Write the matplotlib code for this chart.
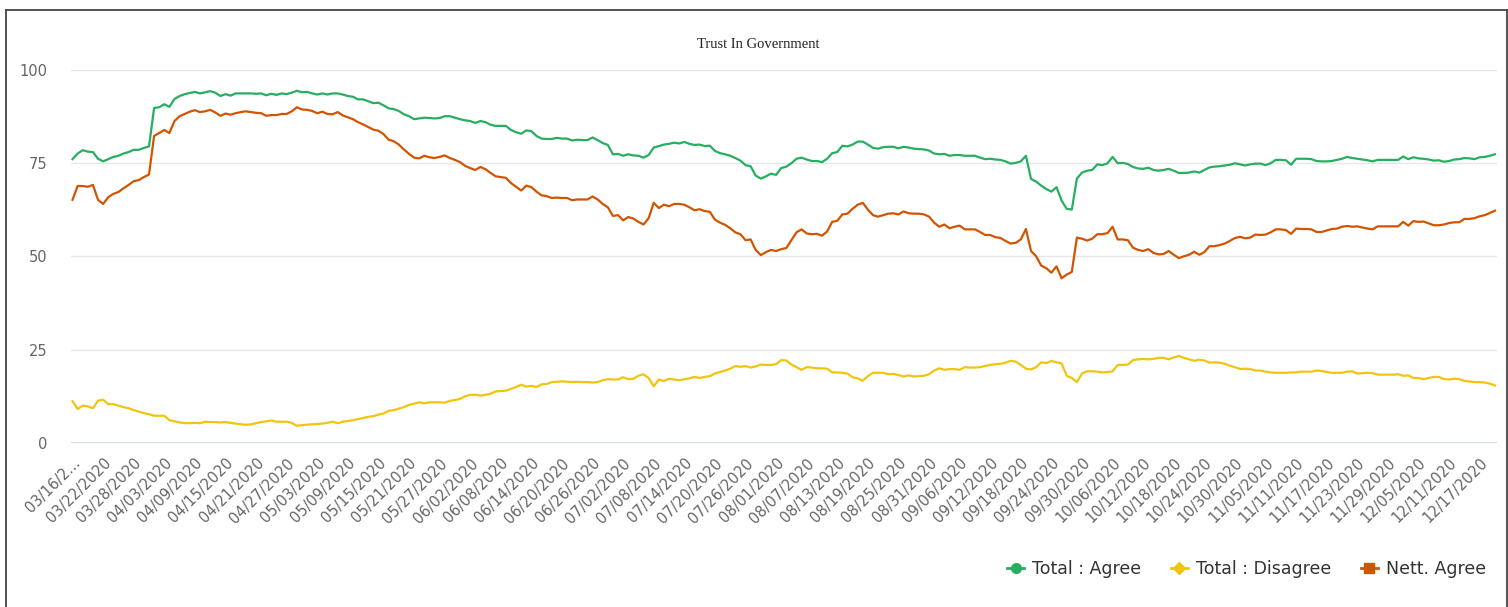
import matplotlib
matplotlib.use("Agg")
import matplotlib.pyplot as plt
from matplotlib.lines import Line2D
import pandas as pd

# Daily series, 03/16/2020 onwards
agree = [
    76.0, 77.5, 78.4, 78.0, 77.9, 76.1, 75.4, 76.0, 76.6, 76.9, 77.5, 77.9, 78.5, 78.5, 79.0, 79.4,
    89.7, 89.9, 90.7, 90.0, 92.1, 92.9, 93.4, 93.7, 94.0, 93.6, 93.9, 94.2, 93.8, 92.9, 93.4, 93.0,
    93.6, 93.6, 93.6, 93.6,
    93.5, 93.6, 93.1, 93.5, 93.2, 93.6, 93.4, 93.8, 94.3, 93.9, 94.0, 93.6, 93.3, 93.6, 93.3, 93.6,
    93.6, 93.3, 92.9, 92.7, 92.0, 92.0, 91.5, 91.0, 91.1, 90.4, 89.6, 89.4, 88.9, 88.0, 87.5, 86.7,
    86.9, 87.1, 87.0, 86.9,
    87.0, 87.5, 87.5, 87.1, 86.7, 86.4, 86.2, 85.7, 86.2, 85.9, 85.2, 84.9, 84.9, 84.9, 83.8, 83.2,
    82.8, 83.7, 83.5, 82.2, 81.5, 81.4, 81.4, 81.7, 81.5, 81.5, 81.0, 81.2, 81.1, 81.1, 81.8, 81.1,
    80.3, 79.8, 77.3,
    77.4, 76.9, 77.3, 77.0, 76.9, 76.4, 77.1, 79.1, 79.5, 79.9, 80.1, 80.4, 80.2, 80.6, 80.1, 79.8,
    79.9, 79.5, 79.6, 78.2, 77.6, 77.3, 76.9, 76.3, 75.6, 74.4, 74.1, 71.6, 70.8, 71.4, 72.1, 71.8,
    73.6, 74.0, 74.9,
    76.1, 76.4, 75.9, 75.5, 75.5, 75.2, 76.1, 77.6, 77.9, 79.6, 79.4, 79.9, 80.7, 80.7, 79.9, 79.0,
    78.8, 79.2, 79.3, 79.3, 78.9, 79.3, 79.1, 78.8, 78.7, 78.6, 78.3, 77.5, 77.3, 77.4, 76.9, 77.1,
    77.1, 76.9, 76.9,
    76.9, 76.4, 76.0, 76.1, 75.9, 75.8, 75.4, 74.8, 75.0, 75.4, 76.9, 70.7, 70.0, 68.9, 68.0, 67.3,
    68.5, 64.9, 62.7, 62.5, 70.8, 72.4, 72.9, 73.1, 74.6, 74.4, 74.9, 76.6, 74.9, 75.0, 74.7, 73.9,
    73.5, 73.4, 73.7,
    73.1, 72.9, 73.1, 73.4, 72.9, 72.3, 72.3, 72.4, 72.7, 72.4, 73.1, 73.8, 74.0, 74.1, 74.3, 74.5,
    74.9, 74.6, 74.3, 74.6, 74.8, 74.8, 74.4, 74.9, 75.8, 75.8, 75.7, 74.5, 76.1, 76.1, 76.1, 76.0,
    75.5, 75.4, 75.4,
    75.5, 75.8, 76.1, 76.6, 76.3, 76.1, 75.9, 75.7, 75.4, 75.8, 75.8, 75.8, 75.8, 75.8, 76.7, 76.0,
    76.5, 76.2, 76.1, 75.9, 75.6, 75.7, 75.3, 75.5, 75.9, 76.0, 76.3, 76.2, 76.0, 76.5, 76.6, 76.9,
    77.3,
]

disagree = [
    11.2, 9.1, 10.0, 9.8, 9.3, 11.3, 11.6, 10.4, 10.4, 10.0, 9.6, 9.3, 8.8, 8.4, 8.0, 7.7,
    7.3, 7.3, 7.3, 6.1, 5.8, 5.5, 5.3, 5.3, 5.4, 5.3, 5.7, 5.6, 5.6, 5.5, 5.6, 5.4,
    5.2, 5.0, 4.9, 5.0,
    5.3, 5.6, 5.8, 6.0, 5.7, 5.7, 5.7, 5.4, 4.6, 4.8, 4.9, 5.0, 5.1, 5.2, 5.4, 5.7,
    5.3, 5.7, 5.9, 6.1, 6.4, 6.7, 7.0, 7.2, 7.6, 7.9, 8.6, 8.8, 9.2, 9.6, 10.2, 10.5,
    10.9, 10.6, 10.9, 10.9,
    10.9, 10.8, 11.3, 11.5, 11.8, 12.5, 12.9, 12.9, 12.7, 12.9, 13.2, 13.8, 13.9, 14.0, 14.5, 15.0,
    15.6, 15.1, 15.3, 15.0, 15.7, 15.8, 16.3, 16.4, 16.5, 16.4, 16.3, 16.4, 16.3, 16.3, 16.2, 16.3,
    16.8, 17.1, 17.0,
    17.0, 17.6, 17.1, 17.2, 18.0, 18.4, 17.4, 15.2, 17.0, 16.6, 17.2, 17.0, 16.8, 17.1, 17.3, 17.7,
    17.4, 17.7, 17.9, 18.6, 19.0, 19.4, 19.9, 20.6, 20.4, 20.6, 20.2, 20.5, 21.0, 20.9, 20.9, 21.1,
    22.2, 22.1, 21.0,
    20.3, 19.6, 20.3, 20.2, 20.0, 20.0, 19.9, 18.9, 18.9, 18.8, 18.6, 17.6, 17.3, 16.7, 17.9, 18.8,
    18.8, 18.8, 18.4, 18.5, 18.2, 17.8, 18.1, 17.8, 17.9, 18.0, 18.4, 19.4, 20.0, 19.6, 19.8, 19.8,
    19.6, 20.3, 20.2,
    20.2, 20.3, 20.6, 20.9, 21.1, 21.2, 21.5, 22.0, 21.8, 20.9, 19.9, 19.7, 20.3, 21.6, 21.4, 22.0,
    21.6, 21.3, 18.0, 17.4, 16.3, 18.6, 19.2, 19.2, 19.1, 18.9, 19.0, 19.2, 20.9, 20.9, 21.0, 22.2,
    22.4, 22.5, 22.4,
    22.5, 22.8, 22.8, 22.4, 22.9, 23.3, 22.8, 22.4, 22.0, 22.3, 22.1, 21.5, 21.6, 21.5, 21.2, 20.7,
    20.3, 19.8, 19.9, 19.8, 19.4, 19.4, 19.1, 18.9, 18.8, 18.8, 18.8, 18.9, 18.9, 19.1, 19.1, 19.1,
    19.4, 19.3, 19.0,
    18.8, 18.8, 18.8, 19.1, 19.2, 18.6, 18.7, 18.8, 18.7, 18.3, 18.3, 18.3, 18.3, 18.4, 18.0, 18.1,
    17.4, 17.4, 17.1, 17.4, 17.7, 17.7, 17.1, 17.0, 17.2, 17.1, 16.6, 16.5, 16.3, 16.3, 16.2, 15.9,
    15.4,
]

nett_agree = [
    65.1, 68.8, 68.8, 68.6, 69.1, 65.1, 64.0, 65.8, 66.7, 67.2, 68.2, 69.1, 70.1, 70.4, 71.2, 71.9,
    82.2, 83.0, 83.8, 83.0, 86.2, 87.5, 88.1, 88.7, 89.1, 88.6, 88.8, 89.2, 88.5, 87.6, 88.2, 87.9,
    88.3, 88.6, 88.8, 88.6,
    88.4, 88.3, 87.6, 87.8, 87.8, 88.1, 88.1, 88.8, 89.9, 89.3, 89.2, 88.9, 88.3, 88.7, 88.1, 88.0,
    88.6, 87.7, 87.2, 86.7, 85.9, 85.3, 84.6, 83.9, 83.6, 82.7, 81.2, 80.8, 79.9, 78.6, 77.4, 76.4,
    76.2, 76.9, 76.5, 76.3,
    76.6, 77.0, 76.3, 75.8, 75.2, 74.2, 73.6, 73.1, 73.9, 73.3, 72.3, 71.4, 71.2, 71.0, 69.6, 68.6,
    67.6, 68.9, 68.5, 67.3, 66.3, 66.1, 65.6, 65.7, 65.6, 65.6, 65.0, 65.2, 65.2, 65.2, 66.0, 65.2,
    64.0, 63.1, 60.8,
    61.0, 59.6, 60.5, 60.1, 59.2, 58.5, 60.2, 64.3, 62.9, 63.8, 63.4, 64.0, 64.0, 63.8, 63.1, 62.3,
    62.6, 62.1, 61.9, 59.8, 59.0, 58.4, 57.5, 56.4, 55.9, 54.3, 54.5, 51.7, 50.3, 51.1, 51.7, 51.4,
    51.9, 52.2, 54.3,
    56.4, 57.2, 56.1, 55.9, 56.0, 55.5, 56.6, 59.2, 59.5, 61.2, 61.4, 62.7, 63.8, 64.3, 62.5, 61.0,
    60.6, 61.0, 61.4, 61.5, 61.2, 62.0, 61.5, 61.4, 61.4, 61.2, 60.6, 59.0, 57.9, 58.5, 57.5, 57.9,
    58.2, 57.2, 57.2,
    57.2, 56.5, 55.7, 55.7, 55.1, 54.9, 54.1, 53.4, 53.6, 54.5, 57.3, 51.4, 50.0, 47.5, 46.8, 45.6,
    47.3, 44.1, 45.1, 45.8, 55.0, 54.7, 54.2, 54.7, 55.9, 55.9, 56.2, 57.9, 54.5, 54.5, 54.3, 52.3,
    51.7, 51.4, 51.9,
    50.9, 50.5, 50.6, 51.4, 50.4, 49.5, 50.0, 50.4, 51.2, 50.4, 51.1, 52.7, 52.7, 53.0, 53.4, 54.1,
    54.9, 55.2, 54.8, 55.0, 55.8, 55.7, 55.8, 56.4, 57.2, 57.2, 57.0, 56.0, 57.4, 57.3, 57.3, 57.2,
    56.5, 56.5, 56.9,
    57.3, 57.4, 57.9, 58.1, 57.9, 58.0, 57.7, 57.4, 57.2, 58.0, 58.0, 58.0, 58.0, 58.0, 59.2, 58.2,
    59.4, 59.2, 59.3, 58.8, 58.3, 58.3, 58.5, 58.9, 59.1, 59.1, 60.0, 60.0, 60.2, 60.7, 61.0, 61.6,
    62.2,
]

dates = pd.date_range("2020-03-16", periods=len(agree), freq="D")
date_labels = [d.strftime("%m/%d/%Y") for d in dates]
label_step = 6

series = [
    ("Total : Agree", agree, "#27ae60", "o"),
    ("Total : Disagree", disagree, "#f1c40f", "D"),
    ("Nett. Agree", nett_agree, "#d35400", "s"),
]

plt.rcParams["font.family"] = ["DejaVu Sans"]

W, H = 1508, 607
fig = plt.figure(figsize=(W / 100, H / 100), dpi=100)
ax = fig.add_axes([71 / W, 1 - 443 / H, (1497 - 71) / W, (443 - 69.5) / H])

x = list(range(len(agree)))
for name, vals, col, mk in series:
    ax.plot(x, vals, color=col, lw=1.6, solid_joinstyle="round", zorder=3)

ax.set_xlim(-0.3, len(agree) - 0.6)
ax.set_ylim(0, 100)

# grid
for yv in [25, 50, 75, 100]:
    ax.axhline(yv, color="#e6e6e6", lw=1.0, zorder=1)
ax.axhline(0, color="#ccd6eb", lw=1.3, zorder=2)

for s in ax.spines.values():
    s.set_visible(False)

ax.set_yticks([0, 25, 50, 75, 100])
ax.set_yticklabels(["0", "25", "50", "75", "100"])
ax.tick_params(axis="y", length=0, pad=17, labelsize=10.5, labelcolor="#666666")

ticks = x[::label_step]
labels = [date_labels[i] for i in ticks]
labels[0] = labels[0][:7] + "..."
ax.set_xticks(ticks)
ax.set_xticklabels(labels, rotation=45, ha="right", rotation_mode="anchor")
ax.tick_params(axis="x", length=0, pad=9, labelsize=10.5, labelcolor="#666666")

fig.text(0.503, 1 - 45 / H, "Trust In Government", ha="center", va="center",
         fontsize=10.5, family="Liberation Serif", color="#222222")

handles = [Line2D([0], [0], color=col, lw=2, marker=mk, markersize=7 if mk != "D" else 6)
           for name, vals, col, mk in series]
fig.legend(handles, [s[0] for s in series], loc="center right",
           bbox_to_anchor=(1486 / W, 1 - 569 / H), ncol=3, frameon=False,
           fontsize=12.5, handlelength=1.0, handletextpad=0.45, columnspacing=1.7,
           borderpad=0, borderaxespad=0, labelcolor="#333333")

# outer frame
frame_kw = dict(color="#444444", lw=1.3, transform=fig.transFigure)
fig.add_artist(Line2D([6 / W, 6 / W], [0, 1 - 10 / H], **frame_kw))
fig.add_artist(Line2D([6 / W, 1507 / W], [1 - 10 / H, 1 - 10 / H], **frame_kw))
fig.add_artist(Line2D([1507 / W, 1507 / W], [0, 1 - 10 / H], **frame_kw))

fig.savefig("out.png", dpi=100, facecolor="white")
